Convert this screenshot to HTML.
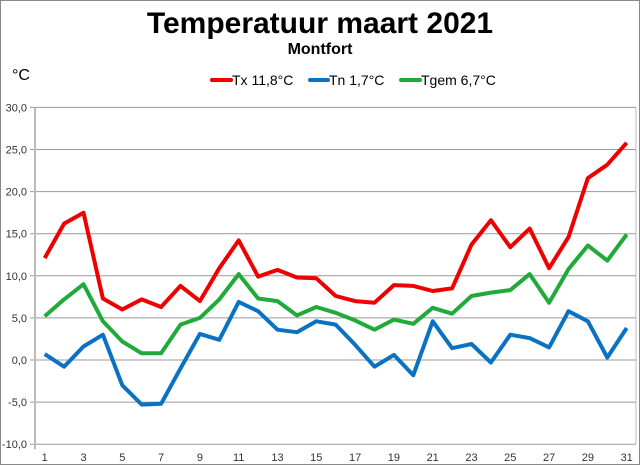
<!DOCTYPE html><html><head><style>body{margin:0}svg{display:block;font-family:"Liberation Sans",Arial,sans-serif}</style></head><body>
<svg width="640" height="465" xmlns="http://www.w3.org/2000/svg">
<rect x="0.5" y="0.5" width="639" height="464" fill="#fff" stroke="#888"/>
<text x="320" y="33" text-anchor="middle" font-size="30" font-weight="bold">Temperatuur maart 2021</text>
<text x="320" y="54" text-anchor="middle" font-size="16" font-weight="bold">Montfort</text>
<text x="12" y="80" font-size="16">°C</text>
<g font-size="14">
<line x1="212" y1="80" x2="231" y2="80" stroke="#e00" stroke-width="4" stroke-linecap="round"/><text x="232" y="85">Tx 11,8°C</text>
<line x1="310" y1="80" x2="328" y2="80" stroke="#0a72c2" stroke-width="4" stroke-linecap="round"/><text x="329" y="85">Tn 1,7°C</text>
<line x1="401" y1="80" x2="420" y2="80" stroke="#1faa3a" stroke-width="4" stroke-linecap="round"/><text x="421" y="85">Tgem 6,7°C</text>
</g>
<g id="grid" stroke="#9a9a9a" stroke-width="1"></g>
<g id="lab" font-size="11" fill="#333"></g>
<polyline id="tx" fill="none" stroke="#e00" stroke-width="4" stroke-linejoin="round"/>
<polyline id="tn" fill="none" stroke="#0a72c2" stroke-width="4" stroke-linejoin="round"/>
<polyline id="tg" fill="none" stroke="#1faa3a" stroke-width="4" stroke-linejoin="round"/>
</svg>
<script>
var ns="http://www.w3.org/2000/svg";
function Y(v){return 360-8.42*v}function X(d){return 35+19.4*(d-0.5)}
var g=document.getElementById('grid'),l=document.getElementById('lab');
function el(p,t,a,txt){var e=document.createElementNS(ns,t);for(var k in a)e.setAttribute(k,a[k]);if(txt)e.textContent=txt;p.appendChild(e);}
for(var v=-10;v<=30;v+=5){var y=Y(v);el(g,'line',{x1:30,x2:636,y1:y,y2:y});el(l,'text',{x:27,y:y+4,'text-anchor':'end'},v.toFixed(1).replace('.',','));}
el(g,'line',{x1:35,x2:35,y1:Y(30),y2:Y(-10)+5,stroke:'#bbb','stroke-width':2});
el(g,'line',{x1:636,x2:636,y1:Y(30),y2:Y(-10),stroke:'#bbb'});
for(var d=1;d<=31;d+=2)el(l,'text',{x:X(d),y:461,'text-anchor':'middle'},d);
var tx=[12.1,16.2,17.5,7.3,6.0,7.2,6.3,8.8,7.0,10.9,14.2,9.9,10.7,9.8,9.7,7.6,7.0,6.8,8.9,8.8,8.2,8.5,13.7,16.6,13.4,15.6,10.9,14.6,21.6,23.2,25.8];
var tn=[0.7,-0.8,1.6,3.0,-3.0,-5.3,-5.2,-1.0,3.1,2.4,6.9,5.8,3.6,3.3,4.6,4.2,1.8,-0.8,0.6,-1.8,4.6,1.4,1.9,-0.3,3.0,2.6,1.5,5.8,4.6,0.3,3.8];
var tg=[5.2,7.2,9.0,4.6,2.2,0.8,0.8,4.2,5.0,7.2,10.2,7.3,7.0,5.3,6.3,5.6,4.7,3.6,4.8,4.3,6.2,5.5,7.6,8.0,8.3,10.2,6.8,10.8,13.6,11.8,14.9];
function pts(a){return a.map(function(v,i){return X(i+1).toFixed(1)+','+Y(v).toFixed(1)}).join(' ')}
document.getElementById('tx').setAttribute('points',pts(tx));
document.getElementById('tn').setAttribute('points',pts(tn));
document.getElementById('tg').setAttribute('points',pts(tg));
</script></body></html>
